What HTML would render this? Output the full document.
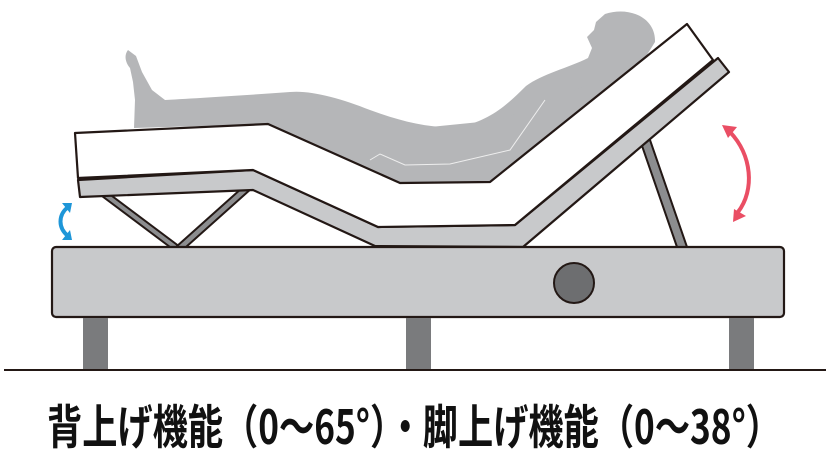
<!DOCTYPE html>
<html><head><meta charset="utf-8"><style>
html,body{margin:0;padding:0;background:#fff;width:833px;height:460px;overflow:hidden}
</style></head><body>
<svg width="833" height="460" viewBox="0 0 833 460" xmlns="http://www.w3.org/2000/svg">
<!-- body silhouette -->
<path fill="#b5b6b8" d="M128,50 C124,55 125,62 130,68 L133,82 L135,100 L134,128 L268,124 L400,183 L490,182 L645,58 L655,42 C656,18 630,6 605,14 L596,22 L594,30 L587,37 L592,48 L588,58 C568,68 542,74 526,86 C506,106 490,120 460,127 C430,129 400,121 370,110 C340,98 310,90 290,92 C250,95 200,98 165,100 L152,90 L142,72 L136,56 Z"/>
<!-- supports -->
<g stroke="#231815" stroke-width="2" fill="#8c8d8f">
<polygon points="98,193 108,193 180,247 170,247"/>
<polygon points="242,188 252,188 186,247 176,247"/>
<polygon points="640,140 650,140 687,247 677,247"/>
</g>
<!-- frame -->
<polygon points="78,180 253,170 378,227 515,225 718,58 729,72 523,247 375,246 253,190 80,197" fill="#c8c9cb" stroke="#231815" stroke-width="2.2" stroke-linejoin="round"/>
<!-- mattress lower white part -->
<polygon points="75,133 268,124 400,183 490,182 687,24 713,60 515,225 378,227 253,170 78,178" fill="#fff" stroke="none"/>
<!-- body over mattress -->
<path fill="#b5b6b8" d="M268,124 L400,183 L490,182 L645,58 L600,80 L500,120 L420,128 L330,105 Z"/>
<polygon points="75,133 268,124 400,183 490,182 687,24 713,60 515,225 378,227 253,170 78,178" fill="none" stroke="#231815" stroke-width="2.2" stroke-linejoin="round"/>
<path d="M370,160 L380,154 L405,165 L450,164 L510,150 L545,100" fill="none" stroke="#eee" stroke-width="1"/>
<!-- base -->
<rect x="52" y="247" width="732" height="70" rx="4" fill="#c8c9cb" stroke="#231815" stroke-width="2.2"/>
<ellipse cx="574" cy="283" rx="20" ry="20" fill="#6d6e70" stroke="#231815" stroke-width="2"/>
<g fill="#7a7b7d">
<rect x="83" y="318" width="25" height="52"/>
<rect x="406" y="318" width="25" height="52"/>
<rect x="729" y="318" width="25" height="52"/>
</g>
<line x1="4" y1="370" x2="826" y2="370" stroke="#231815" stroke-width="2"/>
<!-- blue arrow -->
<path d="M68,207 C58,215 58,228 68,236" fill="none" stroke="#1e96d8" stroke-width="4"/>
<polygon points="62,203 72,203 70,213" fill="#1e96d8"/>
<polygon points="62,240 72,240 70,230" fill="#1e96d8"/>
<!-- red arrow -->
<path d="M730,132 C752,155 755,190 738,212" fill="none" stroke="#ea4e64" stroke-width="4"/>
<polygon points="722,125 737,127 728,138" fill="#ea4e64"/>
<polygon points="733,222 746,216 734,209" fill="#ea4e64"/>
<text x="47" y="444" font-family="'Noto Sans CJK JP',sans-serif" font-size="47" font-weight="bold" fill="#111" textLength="734" lengthAdjust="spacingAndGlyphs">背上げ機能（0～65°）・脚上げ機能（0～38°）</text>
</svg>
</body></html>
